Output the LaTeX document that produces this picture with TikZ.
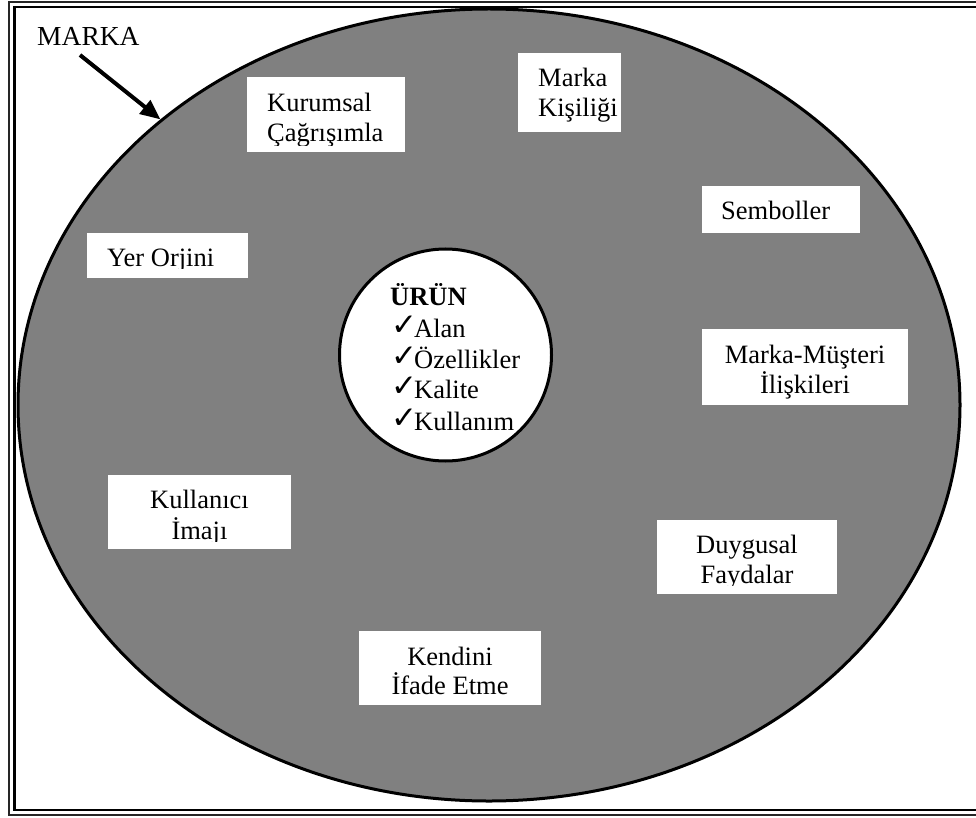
\documentclass[tikz,border=0pt]{standalone}
\usepackage{fontspec}
\setmainfont{Liberation Serif}
\newfontfamily\symfont{DejaVu Sans}
\usetikzlibrary{arrows.meta,shapes.geometric}
\definecolor{brandgray}{HTML}{808080}
\newcommand{\chk}{\makebox[23pt][l]{\raisebox{2pt}{\symfont\fontsize{31}{30}\selectfont ✓}}}

\begin{document}
\begin{tikzpicture}[x=1pt,y=-1pt,
  lbl/.style={inner sep=0pt, font=\fontsize{26.5}{30}\selectfont},
  wbox/.style={fill=white, draw=none, inner sep=0pt, anchor=north west},
  framein/.style={line width=2.4pt, black},
  frameout/.style={line width=1.8pt, black!85},
  pointer/.style={line width=4pt, -{Triangle[length=20pt,width=17pt]}},
]
\useasboundingbox (0,0) rectangle (976,818);

% double page frame
\draw[frameout] (976,2.3) -- (9.2,2.3) -- (9.2,815) -- (976,815);
\draw[framein] (976,7) -- (14.5,7) -- (14.5,810) -- (976,810);

% brand ellipse and product circle
\node[ellipse, draw, line width=3pt, fill=brandgray,
      minimum width=942pt, minimum height=792pt] (marka) at (489,405) {};
\node[circle, draw, line width=3pt, fill=white,
      minimum size=212pt] (urun) at (445.5,355) {};

% brand label and pointer
\node[lbl, font=\fontsize{27.5}{30}\selectfont, anchor=base west] (mk) at (37,46) {MARKA};
\coordinate (mkTail) at (80,55);
\draw[pointer] (mkTail) -- (marka.139.5);

% product contents
\node[lbl, anchor=base west] (u0) at (390,305) {\textbf{ÜRÜN}};
\node[lbl, anchor=base west] (u1) at (391,337) {\chk Alan};
\node[lbl, anchor=base west] (u2) at (391,368) {\chk Özellikler};
\node[lbl, anchor=base west] (u3) at (391,398) {\chk Kalite};
\node[lbl, anchor=base west] (u4) at (391,430) {\chk Kullanım};

% Kurumsal Çağrışımla
\node[wbox, minimum width=158pt, minimum height=75pt] (bKur) at (247,77) {};
\node[lbl, anchor=base west] (kur1) at (267,112) {Kurumsal};
\begin{scope}
  \clip (247,77) rectangle (405,146);
  \node[lbl, anchor=base west] (kur2) at (267,142) {Çağrışımla};
\end{scope}

% Marka Kişiliği
\node[wbox, minimum width=103pt, minimum height=79pt] (bKis) at (518,53) {};
\node[lbl, anchor=base west] (kis1) at (538,87) {Marka};
\node[lbl, anchor=base west] (kis2) at (538,117) {Kişiliği};

% Yer Orjini
\node[wbox, minimum width=161pt, minimum height=45pt] (bYer) at (87,233) {};
\begin{scope}
  \clip (87,233) rectangle (248,268);
  \node[lbl, anchor=base west] (yer1) at (107,266) {Yer Orjini};
\end{scope}

% Semboller
\node[wbox, minimum width=158pt, minimum height=47pt] (bSem) at (702,186) {};
\node[lbl, anchor=base west] (sem1) at (721,220) {Semboller};

% Marka-Müşteri İlişkileri
\node[wbox, minimum width=206pt, minimum height=76pt] (bMm) at (702,329) {};
\node[lbl, anchor=base] (mm1) at (805,363) {Marka-Müşteri};
\node[lbl, anchor=base] (mm2) at (805,393) {İlişkileri};

% Kullanıcı İmajı
\node[wbox, minimum width=183pt, minimum height=74pt] (bKul) at (108,475) {};
\node[lbl, anchor=base] (kul1) at (199.5,508) {Kullanıcı};
\begin{scope}
  \clip (108,475) rectangle (291,541);
  \node[lbl, anchor=base] (kul2) at (199.5,539) {İmajı};
\end{scope}

% Duygusal Faydalar
\node[wbox, minimum width=180pt, minimum height=74pt] (bDuy) at (657,520) {};
\node[lbl, anchor=base] (duy1) at (747,553) {Duygusal};
\begin{scope}
  \clip (657,520) rectangle (837,585);
  \node[lbl, anchor=base] (duy2) at (747,583) {Faydalar};
\end{scope}

% Kendini İfade Etme
\node[wbox, minimum width=182pt, minimum height=74pt] (bKen) at (359,631) {};
\node[lbl, anchor=base] (ken1) at (450,665) {Kendini};
\node[lbl, anchor=base] (ken2) at (450,694) {İfade Etme};
\end{tikzpicture}
\end{document}
